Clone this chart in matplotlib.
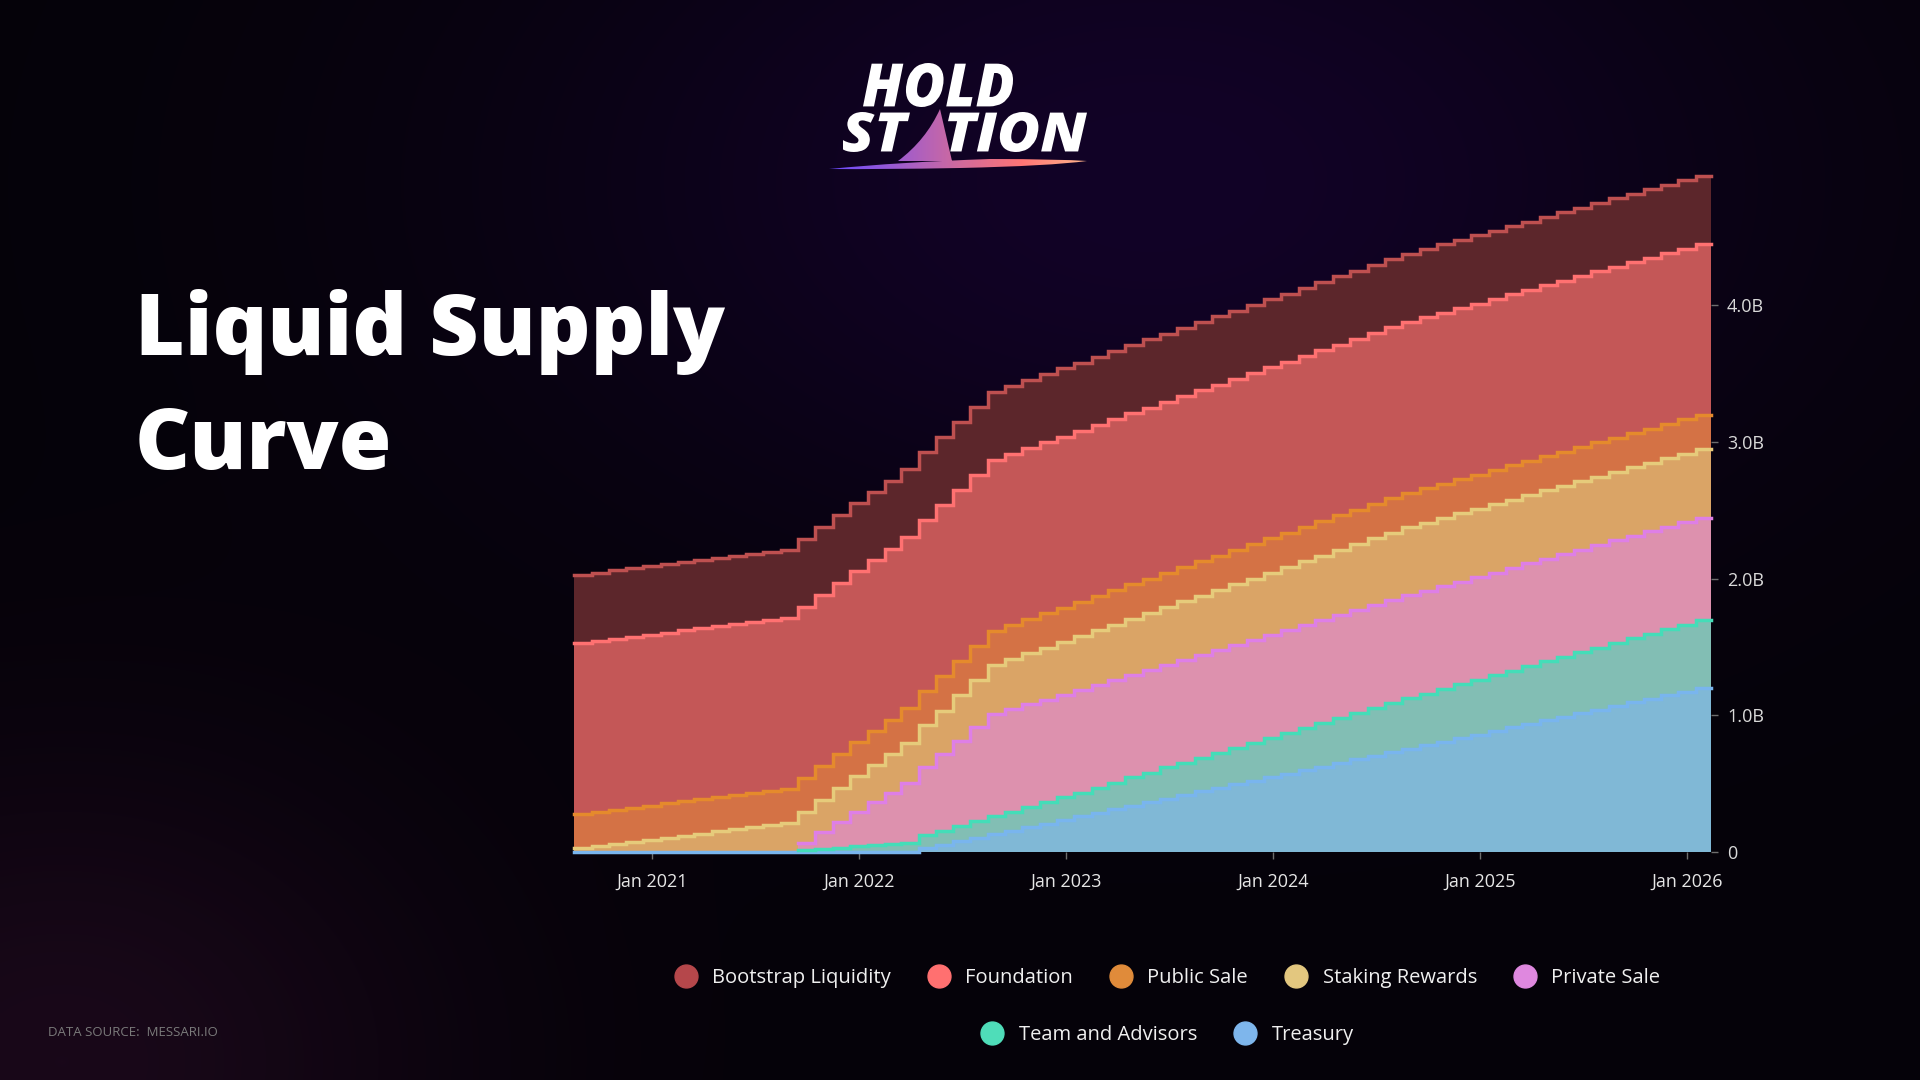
import numpy as np
import pandas as pd
import matplotlib
matplotlib.use('Agg')
import matplotlib.pyplot as plt
import matplotlib.dates as mdates
from matplotlib.colors import LinearSegmentedColormap
from matplotlib.font_manager import FontProperties
from matplotlib.lines import Line2D
from matplotlib.patches import PathPatch
from matplotlib.path import Path
from matplotlib.textpath import TextPath
from matplotlib.transforms import Affine2D

# --- Data: liquid supply per allocation, millions of tokens ---
# one value per monthly unlock (16th of each month, Aug 2020 .. Jan 2026)
dates = pd.date_range('2020-08-16', periods=66, freq=pd.DateOffset(months=1))
end_date = pd.Timestamp('2026-02-12')

bootstrap_liquidity = [
    500, 500, 500, 500, 500, 500, 500, 500, 500, 500, 500,
    500, 500, 500, 500, 500, 500, 500, 500, 500, 500, 500,
    500, 500, 500, 500, 500, 500, 500, 500, 500, 500, 500,
    500, 500, 500, 500, 500, 500, 500, 500, 500, 500, 500,
    500, 500, 500, 500, 500, 500, 500, 500, 500, 500, 500,
    500, 500, 500, 500, 500, 500, 500, 500, 500, 500, 500,
]
foundation = [
    1250, 1250, 1250, 1250, 1250, 1250, 1250, 1250, 1250, 1250, 1250,
    1250, 1250, 1250, 1250, 1250, 1250, 1250, 1250, 1250, 1250, 1250,
    1250, 1250, 1250, 1250, 1250, 1250, 1250, 1250, 1250, 1250, 1250,
    1250, 1250, 1250, 1250, 1250, 1250, 1250, 1250, 1250, 1250, 1250,
    1250, 1250, 1250, 1250, 1250, 1250, 1250, 1250, 1250, 1250, 1250,
    1250, 1250, 1250, 1250, 1250, 1250, 1250, 1250, 1250, 1250, 1250,
]
public_sale = [
    250, 250, 250, 250, 250, 250, 250, 250, 250, 250, 250,
    250, 250, 250, 250, 250, 250, 250, 250, 250, 250, 250,
    250, 250, 250, 250, 250, 250, 250, 250, 250, 250, 250,
    250, 250, 250, 250, 250, 250, 250, 250, 250, 250, 250,
    250, 250, 250, 250, 250, 250, 250, 250, 250, 250, 250,
    250, 250, 250, 250, 250, 250, 250, 250, 250, 250, 250,
]
staking_rewards = [
    28, 43, 59, 74, 89, 105, 120, 135, 151, 166, 181,
    197, 212, 224, 236, 248, 260, 272, 284, 296, 308, 320,
    332, 344, 356, 364, 372, 380, 388, 395, 401, 406, 412,
    417, 423, 428, 434, 439, 445, 450, 456, 461, 467, 472,
    478, 483, 489, 494, 499, 500, 500, 500, 500, 500, 500,
    500, 500, 500, 500, 500, 500, 500, 500, 500, 500, 500,
]
private_sale = [
    None, None, None, None, None, None, None, None, None, None, None,
    None, None, 50, 120, 185, 252, 310, 372, 438, 497, 558,
    622, 686, 748, 750, 750, 750, 750, 750, 750, 750, 750,
    750, 750, 750, 750, 750, 750, 750, 750, 750, 750, 750,
    750, 750, 750, 750, 750, 750, 750, 750, 750, 750, 750,
    750, 750, 750, 750, 750, 750, 750, 750, 750, 750, 750,
]
team_and_advisors = [
    None, None, None, None, None, None, None, None, None, None, None,
    None, None, 18, 24, 32, 42, 52, 60, 66, 95, 104,
    113, 121, 130, 139, 148, 157, 165, 174, 185, 195, 206,
    216, 227, 237, 248, 258, 269, 279, 290, 300, 311, 321,
    332, 342, 353, 363, 371, 378, 386, 393, 401, 408, 416,
    423, 431, 438, 446, 453, 461, 468, 476, 483, 491, 498,
]
treasury = [
    0, 0, 0, 0, 0, 0, 0, 0, 0, 0, 0,
    0, 0, 0, 0, 0, 0, 0, 0, 0, 26, 52,
    78, 104, 130, 156, 182, 208, 234, 260, 286, 312, 339,
    365, 391, 417, 443, 469, 495, 521, 547, 573, 599, 625,
    651, 677, 703, 729, 755, 781, 807, 833, 859, 885, 911,
    937, 964, 990, 1016, 1042, 1068, 1094, 1120, 1146, 1172, 1198,
]

# stacked bottom -> top: (label, values, fill, line, legend marker)
layers = [
    ('Treasury', treasury, '#80B8D6', '#79B5EE', '#7EB6EC'),
    ('Team and Advisors', team_and_advisors, '#82BEB4', '#44DDB8', '#4FDDB9'),
    ('Private Sale', private_sale, '#DD91AE', '#DE7FE6', '#DF88DF'),
    ('Staking Rewards', staking_rewards, '#DAA466', '#E6CB7B', '#E3C77F'),
    ('Public Sale', public_sale, '#D47245', '#E58A2C', '#E08B3A'),
    ('Foundation', foundation, '#C45757', '#FF7171', '#FF7070'),
    ('Bootstrap Liquidity', bootstrap_liquidity, '#5C262B', '#BE5050', '#B5474B'),
]
legend_row1 = ['Bootstrap Liquidity', 'Foundation', 'Public Sale', 'Staking Rewards', 'Private Sale']
legend_row2 = ['Team and Advisors', 'Treasury']

W, H = 1920, 1080
fig = plt.figure(figsize=(19.2, 10.8), dpi=100)
fig.patch.set_facecolor('#050208')

# --- background glow ---
bg = fig.add_axes([0, 0, 1, 1], zorder=0)
gy, gx = np.mgrid[0:H:4, 0:W:4].astype(float)
img = np.zeros(gx.shape + (3,))
img += np.array([5, 2, 9]) / 255
glow = np.exp(-(((gx - 1150) / 620) ** 2 + ((gy - 180) / 380) ** 2))
img += glow[..., None] * np.array([13, 1, 30]) / 255
glow2 = np.exp(-(((gx - 60) / 380) ** 2 + ((gy - 1060) / 300) ** 2))
img += glow2[..., None] * np.array([20, 6, 16]) / 255
bg.imshow(np.clip(img, 0, 1), extent=[0, W, H, 0], aspect='auto', interpolation='bilinear')
bg.set_xlim(0, W)
bg.set_ylim(H, 0)
bg.axis('off')

# --- chart ---
ax = fig.add_axes([574 / W, 1 - 852 / H, (1711 - 574) / W, (852 - 168.25) / H], zorder=1)
ax.set_facecolor('none')

x = mdates.date2num(list(dates) + [end_date])
base = np.zeros(len(x))
tops = []
for label, vals, fill, line, marker in layers:
    v = np.array([np.nan if a is None else a for a in vals], dtype=float)
    v = np.append(v, v[-1])
    top = base + np.nan_to_num(v)
    ax.fill_between(x, base, top, step='post', color=fill, lw=0, zorder=1)
    tops.append((np.where(np.isnan(v), np.nan, top), line))
    base = top

for top, line in tops:
    ax.plot(x, top, drawstyle='steps-post', color=line, lw=2.5, zorder=3,
            clip_on=False, solid_joinstyle='miter')

ax.set_xlim(mdates.date2num(dates[0]), mdates.date2num(end_date))
ax.set_ylim(0, 5000)
for s in ax.spines.values():
    s.set_visible(False)

ax.yaxis.tick_right()
ax.set_yticks([0, 1000, 2000, 3000, 4000])
ax.yaxis.set_major_formatter(lambda v, p: '0' if v == 0 else f'{v / 1000:.1f}B')
ax.set_xticks(mdates.date2num([pd.Timestamp(f'{y}-01-01') for y in range(2021, 2027)]))
ax.xaxis.set_major_formatter(mdates.DateFormatter('%b %Y'))
ax.tick_params(axis='y', length=5, width=1, color='#6E6E6E', pad=6.5,
               labelsize=13, labelcolor='#D9D9D9')
ax.tick_params(axis='x', length=5, width=1, color='#6E6E6E', pad=10,
               labelsize=13, labelcolor='#E6E6E6')
for t in ax.get_xticklabels() + ax.get_yticklabels():
    t.set_family('Open Sans')

# --- legend (two centred rows) ---
markers = {label: marker for label, _, _, _, marker in layers}
for names, yy in [(legend_row1, 1 - 978 / H), (legend_row2, 1 - 1035 / H)]:
    handles = [Line2D([], [], ls='none', marker='o', ms=16.5,
                      mfc=markers[n], mec=markers[n]) for n in names]
    fig.legend(handles, names, loc='center', bbox_to_anchor=(1168 / W, yy),
               ncol=len(names), frameon=False, labelcolor='#F0F0F0',
               prop=FontProperties(family='Open Sans', size=14.5),
               handlelength=1.0, handletextpad=0.8, columnspacing=1.9,
               borderpad=0, borderaxespad=0)

# --- overlay: title, logo, source ---
ov = fig.add_axes([0, 0, 1, 1], zorder=2)
ov.set_xlim(0, W)
ov.set_ylim(H, 0)
ov.axis('off')
ov.patch.set_alpha(0)

title_font = dict(family='Open Sans', fontweight='heavy', fontsize=61.5, color='white')
ov.text(135, 355, 'Liquid Supply', va='baseline', ha='left', **title_font)
ov.text(135, 469, 'Curve', va='baseline', ha='left', **title_font)

ov.text(48, 1032, 'DATA SOURCE:  MESSARI.IO', fontsize=9.5, color='#7A7A7A',
        va='center', ha='left', family='Open Sans')

logo_prop = FontProperties(family='Open Sans', weight='heavy', style='italic')


def fit_text(s, x0, x1, y_top, y_base):
    tp = TextPath((0, 0), s, size=100, prop=logo_prop)
    bb = tp.get_extents()
    tr = (Affine2D().translate(-bb.x0, -bb.y0)
          .scale((x1 - x0) / bb.width, -(y_base - y_top) / bb.height)
          .translate(x0, y_base))
    ov.add_patch(PathPatch(tr.transform_path(tp), fc='white', lw=0, zorder=3))


fit_text('HOLD', 863, 1013, 63, 107)
fit_text('ST', 843, 910, 112, 152)
fit_text('TION', 948, 1087, 112, 152)

fin = Path([(898, 161), (926, 140), (940, 109), (946, 135), (952, 161), (898, 161)],
           [Path.MOVETO, Path.CURVE3, Path.CURVE3, Path.CURVE3, Path.CURVE3, Path.CLOSEPOLY])
swoosh = Path([(829, 169), (900, 162), (990, 159), (1060, 159), (1087, 161),
               (1050, 166), (960, 168), (880, 169.5), (829, 169)],
              [Path.MOVETO, Path.CURVE3, Path.CURVE3, Path.CURVE3, Path.CURVE3,
               Path.CURVE3, Path.CURVE3, Path.CURVE3, Path.CURVE3])
logo_shape = PathPatch(Path.make_compound_path(fin, swoosh), fc='none', ec='none',
                       transform=ov.transData)
ov.add_patch(logo_shape)
grad = LinearSegmentedColormap.from_list(
    'logo', ['#6A4BFF', '#9A5AD2', '#CF6A9E', '#FF7575', '#FFB58C'])
im = ov.imshow(np.linspace(0, 1, 256)[None, :], cmap=grad, aspect='auto',
               extent=[829, 1087, 172, 105], zorder=2, interpolation='bilinear')
im.set_clip_path(logo_shape)

fig.savefig('out.png', dpi=100, facecolor=fig.get_facecolor())
